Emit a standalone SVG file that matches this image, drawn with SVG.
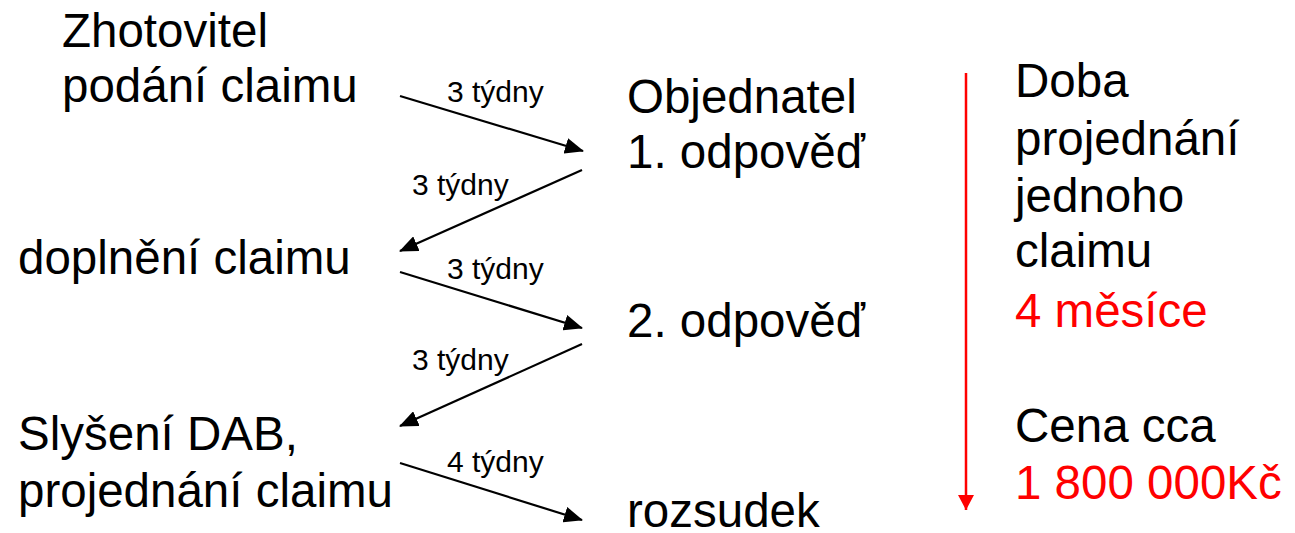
<svg xmlns="http://www.w3.org/2000/svg" width="1295" height="533" viewBox="0 0 1295 533">
<style>
.big{font-family:"Liberation Sans",Arial,sans-serif;font-size:47.5px;fill:#000}
.red{fill:#ff0000}
.sm{font-family:"Liberation Sans",Arial,sans-serif;font-size:30px;fill:#000}
.ln{stroke:#000;stroke-width:2.2;fill:none;marker-end:url(#ah)}
.rl{stroke:#ff0000;stroke-width:2.5;fill:none;marker-end:url(#ahr)}
</style>
<defs>
<marker id="ah" markerUnits="userSpaceOnUse" markerWidth="20" markerHeight="16" refX="18" refY="8" orient="auto">
<path d="M0,0 L19,8 L0,16 Z" fill="#000"/>
</marker>
<marker id="ahr" markerUnits="userSpaceOnUse" markerWidth="16" markerHeight="16" refX="15" refY="8" orient="auto">
<path d="M0,0 L15,8 L0,16 Z" fill="#ff0000"/>
</marker>
</defs>
<rect width="1295" height="533" fill="#fff"/>
<g id="connectors">
<line class="ln" x1="400" y1="96" x2="583" y2="151"/>
<line class="ln" x1="582" y1="170" x2="400" y2="251"/>
<line class="ln" x1="400" y1="272" x2="582" y2="328"/>
<line class="ln" x1="582" y1="344" x2="400" y2="426"/>
<line class="ln" x1="400" y1="463" x2="582" y2="520"/>
<line class="rl" x1="966" y1="73" x2="966" y2="510"/>
</g>
<g id="labels">
<text class="sm" x="447" y="102">3 týdny</text>
<text class="sm" x="412" y="195">3 týdny</text>
<text class="sm" x="447" y="279">3 týdny</text>
<text class="sm" x="412" y="370">3 týdny</text>
<text class="sm" x="447" y="472">4 týdny</text>
</g>
<g id="zhotovitel">
<text class="big" x="62" y="47">Zhotovitel</text>
<text class="big" x="62" y="102">podání claimu</text>
</g>
<g id="objednatel">
<text class="big" x="627" y="113">Objednatel</text>
<text class="big" x="627" y="168">1. odpověď</text>
</g>
<g id="doplneni">
<text class="big" x="18" y="274">doplnění claimu</text>
</g>
<g id="odpoved2">
<text class="big" x="627" y="337">2. odpověď</text>
</g>
<g id="slyseni">
<text class="big" x="18" y="450">Slyšení DAB,</text>
<text class="big" x="18" y="507">projednání claimu</text>
</g>
<g id="rozsudek">
<text class="big" x="627" y="527">rozsudek</text>
</g>
<g id="doba">
<text class="big" x="1015" y="97">Doba</text>
<text class="big" x="1015" y="155">projednání</text>
<text class="big" x="1015" y="212">jednoho</text>
<text class="big" x="1015" y="267">claimu</text>
<text class="big red" x="1015" y="327">4 měsíce</text>
</g>
<g id="cena">
<text class="big" x="1015" y="442">Cena cca</text>
<text class="big red" x="1015" y="499">1 800 000Kč</text>
</g>
</svg>
